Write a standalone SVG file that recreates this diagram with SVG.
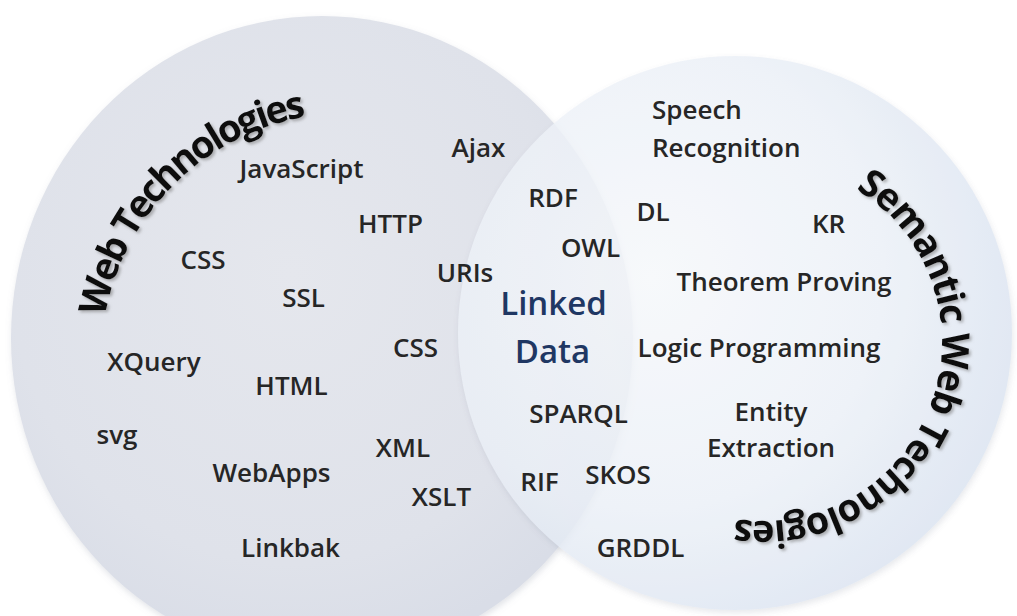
<svg xmlns="http://www.w3.org/2000/svg" width="1017" height="616" viewBox="0 0 1017 616">
  <style>
    .lbl { font-family: "Open Sans", "Liberation Sans", sans-serif; font-weight: 600; font-size: 26px; fill: #262626; text-anchor: middle; }
    .lft { text-anchor: start; }
    .core { font-family: "Open Sans", "Liberation Sans", sans-serif; font-weight: 600; font-size: 33px; fill: #1f3763; text-anchor: middle; }
    .title { font-family: "Open Sans", "Liberation Sans", sans-serif; font-weight: 700; font-size: 38px; fill: #111111; }
  </style>
  <defs>
    <radialGradient id="gradWeb" cx="0.45" cy="0.4" r="0.6">
      <stop offset="0" stop-color="#e5e7ed"/>
      <stop offset="0.75" stop-color="#dfe2ea"/>
      <stop offset="1" stop-color="#d9dde7"/>
    </radialGradient>
    <radialGradient id="gradSem" cx="0.35" cy="0.4" r="0.7">
      <stop offset="0" stop-color="#f6f8fb"/>
      <stop offset="0.6" stop-color="#ebf0f7"/>
      <stop offset="1" stop-color="#d9e2f0"/>
    </radialGradient>
    <filter id="softShadow" x="-10%" y="-10%" width="120%" height="120%">
      <feDropShadow dx="1" dy="3" stdDeviation="3" flood-color="#8a90a0" flood-opacity="0.25"/>
    </filter>
    <filter id="textShadow" x="-10%" y="-10%" width="120%" height="120%">
      <feDropShadow dx="2" dy="2" stdDeviation="1.8" flood-color="#777777" flood-opacity="0.55"/>
    </filter>
    <path id="arcWeb" d="M103.4,325.6 A247,247 0 0 1 369.5,114"/>
    <path id="arcSem" d="M847,184 A179,179 0 0 1 731.9,518.3"/>
  </defs>

  <rect width="1017" height="616" fill="#ffffff"/>

  <!-- Web technologies set -->
  <g id="web-technologies">
    <ellipse cx="322" cy="338" rx="311" ry="322" fill="url(#gradWeb)" filter="url(#softShadow)"/>
  </g>

  <!-- Semantic web technologies set, laid over the first one -->
  <g id="semantic-web-technologies">
    <circle cx="735" cy="333" r="277" fill="url(#gradSem)" opacity="0.82" filter="url(#softShadow)"/>
  </g>

  <!-- Curved set titles -->
  <g id="titles" filter="url(#textShadow)">
    <text class="title" letter-spacing="-2.5"><textPath href="#arcWeb" startOffset="9">Web Technologies</textPath></text>
    <text class="title" letter-spacing="-1.4"><textPath href="#arcSem" startOffset="10">Semantic Web Technologies</textPath></text>
  </g>

  <!-- Terms in the web technologies set -->
  <g id="web-terms">
    <text class="lbl" x="301.5" y="178">JavaScript</text>
    <text class="lbl" x="478.5" y="157">Ajax</text>
    <text class="lbl" x="390.5" y="233">HTTP</text>
    <text class="lbl" x="203" y="269">CSS</text>
    <text class="lbl" x="465" y="282">URIs</text>
    <text class="lbl" x="303.5" y="307">SSL</text>
    <text class="lbl" x="154" y="371">XQuery</text>
    <text class="lbl" x="415.5" y="357">CSS</text>
    <text class="lbl" x="291.5" y="395">HTML</text>
    <text class="lbl" x="117" y="444">svg</text>
    <text class="lbl" x="403" y="457">XML</text>
    <text class="lbl" x="271.5" y="482">WebApps</text>
    <text class="lbl" x="441.5" y="506">XSLT</text>
    <text class="lbl" x="290.5" y="557">Linkbak</text>
  </g>

  <!-- Terms shared by both sets -->
  <g id="linked-data">
    <text class="core" x="553.5" y="315">Linked</text>
    <text class="core" x="552.5" y="363">Data</text>
    <text class="lbl" x="553" y="207">RDF</text>
    <text class="lbl" x="590.5" y="257">OWL</text>
    <text class="lbl" x="578.5" y="423">SPARQL</text>
    <text class="lbl" x="539.5" y="491">RIF</text>
  </g>

  <!-- Terms in the semantic web technologies set -->
  <g id="semantic-terms">
    <text class="lbl lft" x="652" y="119">Speech</text>
    <text class="lbl lft" x="652" y="157">Recognition</text>
    <text class="lbl" x="653" y="221">DL</text>
    <text class="lbl" x="828.5" y="233">KR</text>
    <text class="lbl" x="784" y="291">Theorem Proving</text>
    <text class="lbl" x="759" y="357">Logic Programming</text>
    <text class="lbl" x="771" y="421">Entity</text>
    <text class="lbl" x="771" y="457">Extraction</text>
    <text class="lbl" x="618" y="484">SKOS</text>
    <text class="lbl" x="640.5" y="557">GRDDL</text>
  </g>
</svg>
